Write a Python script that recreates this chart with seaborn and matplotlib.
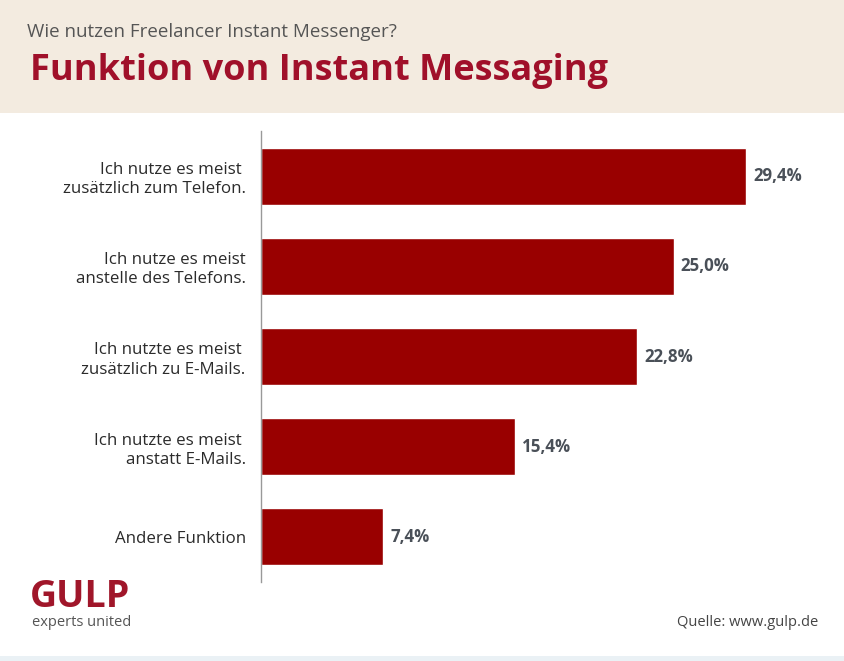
import matplotlib
matplotlib.use("Agg")
import matplotlib.pyplot as plt
from matplotlib.patches import Rectangle
import seaborn as sns
import pandas as pd

# data
categories = [
    "Ich nutze es meist \nzusätzlich zum Telefon.",
    "Ich nutze es meist\nanstelle des Telefons.",
    "Ich nutzte es meist \nzusätzlich zu E-Mails.",
    "Ich nutzte es meist \nanstatt E-Mails.",
    "Andere Funktion",
]
values = [29.4, 25.0, 22.8, 15.4, 7.4]
value_labels = ["29,4%", "25,0%", "22,8%", "15,4%", "7,4%"]

df = pd.DataFrame({"funktion": categories, "anteil": values})

sns.set_theme(style="white")
plt.rcParams["font.family"] = ["Open Sans", "DejaVu Sans"]

fig = plt.figure(figsize=(8.45, 6.61), dpi=100)
fig.patch.set_facecolor("white")

# header band
fig.patches.append(Rectangle((0, 1 - 113 / 661), 1, 113 / 661, transform=fig.transFigure,
                             facecolor="#F3EBE0", edgecolor="none", zorder=0))
# faint strip at the bottom
fig.patches.append(Rectangle((0, 0), 1, 5 / 661, transform=fig.transFigure,
                             facecolor="#EAF1F5", edgecolor="none", zorder=0))

fig.text(27 / 845, 1 - 32 / 661, "Wie nutzen Freelancer Instant Messenger?",
         fontsize=13.5, color="#555555", va="center", ha="left")
fig.text(30 / 845, 1 - 71 / 661, "Funktion von Instant Messaging",
         fontsize=26, fontweight="bold", color="#A0102A", va="center", ha="left")

ax = fig.add_axes([261 / 845, 1 - 582 / 661, 561 / 845, 451 / 661])
sns.barplot(data=df, x="anteil", y="funktion", color="#990000", saturation=1,
            width=0.633, ax=ax, orient="h")

ax.set_xlim(0, 34)
ax.set_ylim(4.5, -0.5)
ax.set_xlabel("")
ax.set_ylabel("")
ax.set_xticks([])
ax.tick_params(axis="y", length=0, pad=11, labelsize=12.2, labelcolor="#2B2B2B")
for lab in ax.get_yticklabels():
    lab.set_linespacing(1.25)

for s in ["top", "right", "bottom"]:
    ax.spines[s].set_visible(False)
ax.spines["left"].set_color("#999999")
ax.spines["left"].set_linewidth(1)

ax.bar_label(ax.containers[0], labels=value_labels, padding=5,
             fontsize=12.2, fontweight="bold", color="#4A5058")

# logo and source
fig.text(30 / 845, 1 - 597 / 661, "GULP", fontsize=27, fontweight="bold",
         color="#A0162A", va="center", ha="left")
fig.text(32 / 845, 1 - 622 / 661, "experts united", fontsize=10.5,
         color="#555555", va="center", ha="left")
fig.text(818 / 845, 1 - 622 / 661, "Quelle: www.gulp.de", fontsize=10.5,
         color="#444444", va="center", ha="right")

fig.savefig("out.png", dpi=100)
